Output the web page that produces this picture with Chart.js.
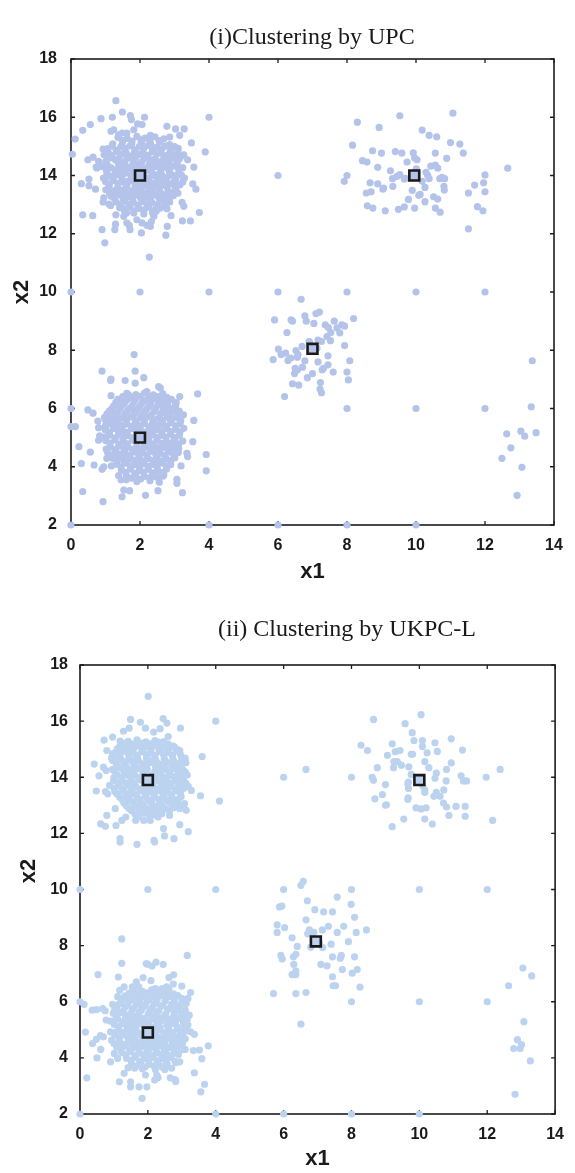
<!DOCTYPE html>
<html><head><meta charset="utf-8">
<script src="https://cdn.jsdelivr.net/npm/chart.js@4.4.1/dist/chart.umd.min.js"></script>
<style>
html,body{margin:0;padding:0;background:#fff;}
#wrap{position:relative;width:575px;height:1173px;overflow:hidden;}
canvas{position:absolute;left:0;}
</style></head>
<body><div id="wrap">
<canvas id="c1" width="575" height="585" style="top:0px"></canvas>
<canvas id="c2" width="575" height="588" style="top:585px"></canvas>
</div>
<script>
// ---------- data ----------
const titles = ["(i)Clustering by UPC", "(ii) Clustering by UKPC-L"];
const xTickLabels = [0,2,4,6,8,10,12,14];
const yTickLabels = [2,4,6,8,10,12,14,16,18];

// chart (i)
const c1Centers = [[2,14],[9.95,14],[2,5],[7,8.05]];
const c1Grid = [[0,2],[4,2],[6,2],[8,2],[10,2],[0,6],[8,6],[10,6],[12,6],[0,10],[2,10],[4,10],[6,10],[8,10],[10,10],[12,10],[6,14],[8,14],[4,16],[0.04,14.73]];
const c1A = [[1.30,16.57],[1.49,16.18],[1.72,16.06],[1.75,15.92],[2.13,16.0],[1.93,15.77],[2.06,15.75],[0.87,15.95],[1.20,16.0],[0.56,15.75],[0.34,15.55],[0.12,15.25],[0.49,14.54],[0.64,14.63],[0.73,14.29],[0.52,13.88],[0.30,13.72],[0.52,13.65],[0.71,13.53],[0.34,12.65],[0.63,12.62],[0.90,12.14],[0.98,11.69],[1.27,12.14],[1.29,12.33],[1.30,12.65],[1.71,12.14],[2.04,12.03],[2.27,11.20],[2.30,12.25],[2.75,11.95],[2.79,12.25],[2.90,12.62],[3.23,12.44],[3.46,12.44],[3.72,12.73],[3.27,12.94],[3.22,13.08],[3.62,13.53],[3.53,13.71],[3.56,14.29],[3.38,14.54],[3.27,14.71],[3.49,15.12],[3.89,14.81],[3.28,15.60],[3.03,15.60],[2.78,15.69],[3.15,15.38],[2.86,15.32],[2.30,15.38],[2.78,12.86],[2.59,12.88],[2.73,13.23],[0.95,13.23],[0.93,13.09],[1.10,13.02],[1.15,12.97],[1.27,13.28],[1.50,12.88],[1.53,12.60],[1.62,12.37],[1.69,12.29],[1.91,12.48],[2.06,12.37],[2.20,12.29],[2.33,12.42],[2.40,12.60],[2.47,12.77],[1.57,12.71],[1.82,12.71],[0.93,14.91],[1.16,15.52],[1.24,15.57],[1.38,15.40],[1.48,15.46],[1.62,15.46],[1.82,15.57],[0.75,14.26],[0.80,14.49],
[1.36,15.31],[1.63,15.27],[1.91,15.34],[2.14,15.28],[2.43,15.33],[2.69,15.26],[1.21,15.09],[1.49,15.13],[1.76,15.07],[2.04,15.12],[2.31,15.08],[2.57,15.14],[2.86,15.06],[1.06,14.92],[1.31,14.87],[1.57,14.93],[1.86,14.88],[2.11,14.94],[2.36,14.86],[2.63,14.91],[2.89,14.89],[3.11,14.93],[0.96,14.71],[1.19,14.68],[1.46,14.73],[1.71,14.67],[1.97,14.72],[2.23,14.69],[2.49,14.74],[2.76,14.68],[3.01,14.71],[3.19,14.66],[1.01,14.49],[1.29,14.53],[1.56,14.47],[1.81,14.52],[2.06,14.48],[2.31,14.54],[2.58,14.47],[2.84,14.51],[3.07,14.49],[0.91,14.31],[1.16,14.27],[1.41,14.32],[1.66,14.28],[1.93,14.33],[2.17,14.26],[2.44,14.31],[2.71,14.28],[2.96,14.32],[3.24,14.27],[1.04,14.09],[1.31,14.12],[1.56,14.07],[1.83,14.11],[2.09,14.08],[2.34,14.13],[2.61,14.07],[2.87,14.11],[3.13,14.08],[0.94,13.91],[1.21,13.88],[1.47,13.92],[1.73,13.87],[2.24,13.91],[2.51,13.88],[2.77,13.93],[3.03,13.87],[3.29,13.91],[1.11,13.69],[1.36,13.72],[1.61,13.67],[1.89,13.71],[2.13,13.68],[2.39,13.73],[2.66,13.67],[2.91,13.71],[3.16,13.68],[1.01,13.51],[1.26,13.48],[1.53,13.52],[1.77,13.47],[2.04,13.51],[2.29,13.49],[2.56,13.53],[2.81,13.47],[3.04,13.52],[1.16,13.29],[1.43,13.32],[1.67,13.28],[1.96,13.31],[2.21,13.27],[2.46,13.33],[2.73,13.28],[2.97,13.31],[1.31,13.09],[1.56,13.12],[1.81,13.07],[2.09,13.11],[2.34,13.08],[2.61,13.12],[2.86,13.09],[1.41,12.89],[1.71,12.92],[1.97,12.87],[2.26,12.91],[2.49,12.88],[1.61,12.71],[2.11,12.68],[2.36,12.72],
[1.62,14.58],[1.88,14.41],[2.13,14.59],[2.38,14.42],[1.49,14.19],[1.74,14.01],[2.21,14.18],[2.47,14.02],[1.61,13.79],[1.86,13.61],[2.12,13.81],[2.37,13.61],[2.62,13.79],[1.37,14.41],[2.71,14.4],[1.25,14.0],[2.98,14.0],[1.52,13.4],[2.02,13.22],[2.55,13.22]];
const c1Afill = [[1.5,15.21],[1.77,15.18],[2.03,15.22],[2.29,15.19],[2.55,15.2],
[1.19,15.01],[1.44,14.98],[1.71,15.02],[1.98,14.99],[2.23,15.03],[2.48,14.97],[2.74,15.01],[3.0,14.99],
[1.08,14.79],[1.33,14.82],[1.6,14.78],[1.84,14.81],[2.09,14.79],[2.36,14.82],[2.61,14.78],[2.87,14.8],[3.1,14.81],
[1.14,14.61],[1.39,14.59],[1.87,14.62],[2.44,14.58],[2.69,14.61],[2.94,14.6],[3.15,14.58],
[1.04,14.39],[1.54,14.41],[1.79,14.38],[2.02,14.42],[2.27,14.39],[2.56,14.41],[2.82,14.38],[3.08,14.4],
[1.02,14.21],[1.28,14.19],[1.62,14.22],[1.8,14.18],[2.06,14.21],[2.33,14.19],[2.59,14.22],[2.84,14.18],[3.12,14.2],
[1.12,13.99],[1.4,14.02],[1.93,13.98],[2.1,14.01],[2.35,13.99],[2.62,14.02],[2.83,13.98],[3.2,14.01],
[1.0,13.79],[1.24,13.82],[1.48,13.78],[1.74,13.81],[1.98,13.79],[2.25,13.82],[2.5,13.78],[2.77,13.8],[3.0,13.81],[3.24,13.78],
[1.1,13.61],[1.35,13.58],[1.62,13.62],[2.0,13.59],[2.24,13.61],[2.52,13.58],[2.78,13.62],[3.02,13.6],
[1.12,13.39],[1.34,13.42],[1.64,13.38],[1.85,13.41],[2.14,13.39],[2.36,13.42],[2.62,13.38],[2.88,13.41],[3.1,13.39],
[1.26,13.21],[1.52,13.18],[1.78,13.22],[2.3,13.19],[2.6,13.21],[2.85,13.18],
[1.42,12.99],[1.68,13.02],[1.94,12.98],[2.2,13.01],[2.48,12.99],[2.74,13.02],
[1.55,12.81],[1.82,12.79],[2.12,12.82],[2.38,12.79]];
const c1B = [[1.83,7.85],[0.90,7.28],[1.86,7.28],[1.16,7.01],[1.15,6.96],[1.57,6.96],[2.11,7.06],[1.86,6.87],[2.20,6.58],[2.54,6.75],[2.59,6.70],[1.16,6.44],[3.67,6.50],[3.15,6.41],[0.49,5.95],[0.64,5.84],[0.0,5.38],[0.13,5.38],[0.78,5.57],[3.03,6.09],[3.00,5.95],[3.26,5.78],[3.56,5.59],[0.23,4.69],[0.56,4.50],[0.30,4.11],[0.67,4.06],[0.90,3.91],[0.34,3.15],[0.93,2.80],[1.53,3.20],[1.48,2.97],[1.70,3.18],[2.16,3.02],[2.52,3.18],[3.23,3.11],[3.07,3.43],[3.07,3.57],[3.19,4.03],[3.38,4.35],[3.36,4.46],[3.92,4.42],[3.92,3.86],[3.53,4.86],[3.12,4.63],[0.80,4.91],[0.83,5.06],[0.93,5.01],[1.04,4.29],[0.95,4.00],[1.17,4.03],[1.38,3.70],[1.45,3.55],[1.60,3.55],[2.69,3.72],[2.45,3.66],[2.78,4.69],[2.88,4.52],[0.80,5.34],[1.0,5.26],[1.19,5.95],[1.43,6.20],[1.53,6.35],[1.67,6.47],[2.30,6.20],[2.40,6.35],[2.54,6.35],[2.69,6.07],[2.78,5.84],[2.88,5.61],[1.0,5.61],[1.04,5.72],[1.29,4.58],[1.38,4.41],[1.53,4.18],
[1.62,6.52],[1.88,6.48],[2.13,6.53],[2.39,6.47],[2.66,6.51],[1.36,6.31],[1.61,6.28],[1.87,6.33],[2.12,6.27],[2.38,6.32],[2.64,6.29],[2.91,6.31],[1.24,6.09],[1.49,6.12],[1.76,6.07],[2.01,6.11],[2.27,6.08],[2.52,6.13],[2.79,6.07],[3.02,6.11],[1.11,5.91],[1.36,5.88],[1.63,5.92],[1.89,5.87],[2.14,5.91],[2.41,5.89],[2.67,5.93],[2.92,5.88],[3.14,5.91],[0.97,5.69],[1.23,5.72],[1.48,5.67],[1.74,5.71],[2.02,5.68],[2.27,5.73],[2.54,5.67],[2.79,5.71],[3.06,5.69],[1.09,5.49],[1.34,5.52],[1.61,5.47],[1.86,5.51],[2.12,5.48],[2.37,5.53],[2.63,5.47],[2.89,5.51],[3.16,5.48],[0.99,5.29],[1.24,5.32],[1.49,5.27],[1.76,5.31],[2.01,5.28],[2.27,5.33],[2.52,5.27],[2.78,5.31],[3.04,5.28],[3.27,5.32],[1.12,5.09],[1.38,5.12],[1.63,5.07],[2.37,5.11],[2.63,5.08],[2.88,5.12],[3.14,5.07],[1.01,4.89],[1.27,4.92],[1.52,4.87],[1.78,4.91],[2.23,4.88],[2.49,4.93],[2.76,4.87],[3.01,4.91],[3.24,4.88],[1.14,4.69],[1.39,4.72],[1.66,4.67],[1.91,4.71],[2.17,4.68],[2.42,4.73],[2.68,4.67],[2.94,4.71],[1.06,4.49],[1.31,4.52],[1.57,4.47],[1.82,4.51],[2.08,4.48],[2.33,4.53],[2.59,4.47],[2.86,4.51],[3.11,4.49],[1.21,4.29],[1.46,4.32],[1.73,4.27],[1.98,4.31],[2.24,4.28],[2.49,4.33],[2.76,4.27],[3.01,4.31],[1.33,4.09],[1.59,4.12],[1.86,4.07],[2.11,4.11],[2.37,4.08],[2.62,4.13],[2.89,4.07],[1.46,3.89],[1.72,3.92],[1.99,3.87],[2.24,3.91],[2.51,3.88],[2.77,3.92],[1.61,3.69],[1.87,3.72],[2.13,3.67],[2.41,3.71],[2.67,3.68],[1.91,3.49],[2.29,3.52],[2.56,3.47],
[1.62,5.61],[1.88,5.42],[2.14,5.61],[2.4,5.42],[1.51,5.19],[1.77,5.0],[2.22,5.2],[2.5,5.0],[1.63,4.79],[1.9,4.6],[2.12,4.8],[2.38,4.6],[2.63,4.8],[1.37,5.41],[2.71,5.4],[1.28,4.99],[2.99,5.0],[1.53,4.4],[2.0,4.2],[2.55,4.2],[1.8,6.0],[2.3,6.2]];
const c1Bfill = [[1.5,6.41],[1.76,6.38],[2.0,6.42],[2.26,6.39],[2.52,6.41],[2.78,6.38],
[1.3,6.21],[1.55,6.18],[1.82,6.22],[2.06,6.19],[2.55,6.21],[2.8,6.18],[3.05,6.2],
[1.18,5.99],[1.43,6.02],[1.68,5.98],[1.95,6.01],[2.2,5.99],[2.46,6.02],[2.72,5.98],[2.96,6.0],
[1.04,5.81],[1.3,5.78],[1.56,5.82],[1.82,5.79],[2.08,5.81],[2.33,5.78],[2.6,5.82],[2.86,5.79],[3.1,5.8],
[1.2,5.59],[1.36,5.62],[1.88,5.58],[2.4,5.61],[2.66,5.59],[2.92,5.62],[3.18,5.58],
[1.0,5.41],[1.22,5.38],[1.49,5.42],[1.74,5.39],[2.0,5.41],[2.26,5.38],[2.52,5.42],[2.77,5.39],[3.03,5.41],
[1.12,5.19],[1.37,5.22],[1.63,5.18],[1.9,5.21],[2.1,5.19],[2.38,5.22],[2.64,5.18],[2.9,5.21],[3.16,5.19],
[1.02,5.01],[1.5,4.98],[2.04,5.02],[2.26,4.99],[2.75,5.01],[3.0,4.98],
[1.13,4.81],[1.39,4.78],[1.9,4.82],[2.36,4.79],[2.88,4.81],[3.12,4.78],
[1.02,4.61],[1.27,4.58],[1.53,4.62],[1.78,4.59],[2.04,4.61],[2.29,4.58],[2.55,4.62],[2.81,4.59],[3.06,4.61],
[1.18,4.39],[1.44,4.42],[1.7,4.38],[1.96,4.41],[2.2,4.39],[2.46,4.42],[2.72,4.38],[2.98,4.41],
[1.33,4.21],[1.59,4.18],[1.85,4.22],[2.12,4.19],[2.38,4.21],[2.64,4.18],[2.9,4.22],
[1.45,3.99],[1.72,4.02],[1.98,3.98],[2.24,4.01],[2.5,3.99],[2.76,4.02],
[1.58,3.81],[1.85,3.78],[2.1,3.82],[2.36,3.79],[2.62,3.81],
[1.75,3.61],[2.02,3.58],[2.28,3.62],[2.54,3.59]];
const c1C = [[8.30,15.83],[8.93,15.65],[9.53,16.05],[11.07,16.14],[10.18,15.56],[10.38,15.38],[10.60,15.33],[8.16,15.04],[8.74,14.85],[9.0,14.77],[9.40,14.82],[9.59,14.77],[9.92,14.78],[10.56,14.77],[11.0,15.13],[11.27,15.08],[11.37,14.77],[10.89,14.59],[8.45,14.51],[8.58,14.46],[9.74,14.46],[9.96,14.61],[10.03,14.54],[8.89,14.28],[9.26,14.16],[7.92,13.80],[8.67,13.75],[8.89,13.71],[9.06,13.57],[9.04,13.53],[9.33,13.63],[9.32,13.89],[9.45,13.97],[9.53,14.03],[9.69,13.90],[10.01,14.23],[10.29,14.11],[10.34,14.00],[10.43,14.32],[10.56,14.36],[10.63,14.25],[10.38,13.89],[10.18,13.80],[10.26,13.59],[9.89,13.49],[10.69,13.89],[10.76,13.94],[10.83,13.89],[10.81,13.63],[10.82,13.50],[12.0,14.02],[11.96,13.75],[11.70,13.67],[12.0,13.44],[11.52,13.40],[12.66,14.25],[8.56,13.40],[8.70,13.44],[10.12,13.35],[10.08,13.32],[9.78,13.18],[10.51,13.27],[10.63,13.19],[10.26,13.10],[8.59,12.96],[8.75,12.88],[9.11,12.79],[9.49,12.84],[9.66,12.92],[9.96,12.88],[10.56,12.88],[10.70,12.74],[11.78,12.93],[11.94,12.79],[11.52,12.17],[9.66,13.88]];
const c1D = [[6.67,9.75],[5.90,9.04],[6.38,9.04],[6.42,9.0],[6.78,9.18],[6.82,9.0],[7.10,9.26],[7.20,9.31],[7.04,8.92],[7.37,8.87],[7.46,8.78],[7.63,9.0],[7.71,8.77],[7.85,8.87],[7.93,8.83],[8.19,9.09],[7.79,8.60],[7.53,8.61],[7.42,8.47],[7.52,8.33],[7.26,8.30],[7.16,8.35],[6.90,8.30],[6.26,8.61],[6.70,8.13],[6.01,8.04],[6.09,7.85],[6.22,7.90],[6.52,7.99],[6.58,7.85],[6.56,7.76],[6.37,7.73],[6.29,7.65],[5.86,7.68],[6.78,7.64],[7.16,7.60],[7.45,7.81],[7.93,8.16],[8.08,7.64],[7.45,7.50],[7.32,7.38],[7.28,7.33],[7.60,7.25],[8.0,7.25],[8.04,6.98],[6.71,7.42],[6.50,7.38],[6.56,7.32],[6.48,7.20],[7.0,7.20],[6.85,7.06],[7.23,6.89],[7.22,6.67],[7.26,6.54],[6.42,6.85],[6.60,6.80],[6.19,6.41],[6.91,8.29],[7.13,8.07]];
const c1E = [[13.37,7.64],[13.34,6.06],[12.63,5.13],[13.04,5.22],[13.15,5.05],[13.48,5.17],[12.75,4.65],[12.49,4.29],[13.07,3.98],[12.93,3.02]];

// chart (ii)
const c2Centers = [[2,13.9],[10,13.9],[2,4.9],[6.95,8.15]];
const c2Grid = [[0,2],[4,2],[6,2],[8,2],[10,2],[0,6],[8,6],[10,6],[12,6],[0,10],[2,10],[4,10],[6,10],[8,10],[10,10],[12,10],[6,14],[8,14],[4,16],[4.11,13.15]];
const c2A = [[2.01,16.88],[1.49,16.06],[1.78,15.96],[2.45,16.09],[2.56,15.93],[1.93,15.75],[2.96,15.75],[0.71,15.32],[0.96,15.43],[1.18,15.29],[1.28,15.64],[1.45,15.75],[2.17,15.61],[2.36,15.73],[2.60,15.45],[0.79,14.95],[0.96,14.83],[0.42,14.47],[0.56,14.05],[0.69,14.36],[0.77,14.24],[0.48,13.51],[0.75,13.49],[0.82,13.41],[0.87,13.71],[1.01,13.89],[3.10,14.68],[3.60,14.74],[3.08,14.12],[3.28,13.53],[3.55,13.34],[2.97,13.55],[3.08,13.06],[3.13,12.82],[2.94,12.88],[2.80,13.17],[0.79,12.64],[1.04,12.88],[1.06,12.28],[0.61,12.34],[0.75,12.25],[1.23,12.46],[1.35,12.58],[1.64,12.46],[1.88,12.46],[2.07,12.46],[2.22,12.82],[2.41,12.70],[2.46,12.17],[2.49,11.91],[2.77,11.81],[2.94,12.31],[3.19,12.06],[2.64,12.64],[0.96,14.60],[1.16,14.83],[1.35,15.07],[1.64,15.19],[2.31,15.25],[2.79,15.07],[2.94,14.95],[2.94,14.48],[2.89,14.36],[1.16,13.77],[1.11,13.41],[1.35,13.17],[1.18,11.81],[2.18,11.75],[1.18,11.69],[1.68,11.61],[2.20,11.69],
[1.42,15.28],[1.68,15.33],[1.94,15.26],[2.21,15.31],[2.47,15.27],[1.18,15.11],[1.44,15.06],[1.71,15.12],[1.97,15.08],[2.23,15.13],[2.49,15.07],[2.74,15.11],[1.04,14.88],[1.29,14.93],[1.56,14.86],[1.82,14.91],[2.07,14.87],[2.33,14.92],[2.59,14.88],[2.84,14.93],[0.93,14.69],[1.18,14.72],[1.44,14.67],[1.69,14.73],[1.96,14.68],[2.21,14.71],[2.48,14.66],[2.73,14.72],[2.99,14.69],[1.06,14.51],[1.31,14.47],[1.57,14.52],[1.83,14.48],[2.09,14.53],[2.34,14.47],[2.61,14.51],[2.87,14.48],[3.12,14.52],[0.96,14.28],[1.21,14.32],[1.47,14.27],[1.72,14.31],[1.98,14.28],[2.24,14.33],[2.51,14.27],[2.76,14.31],[3.02,14.28],[1.09,14.09],[1.34,14.12],[1.61,14.07],[1.86,14.11],[2.12,14.08],[2.38,14.13],[2.63,14.07],[2.89,14.11],[3.16,14.08],[0.99,13.89],[1.24,13.92],[1.51,13.87],[1.76,13.91],[2.27,13.88],[2.53,13.93],[2.79,13.87],[3.04,13.91],[1.13,13.69],[1.39,13.72],[1.64,13.67],[1.91,13.71],[2.16,13.68],[2.42,13.73],[2.68,13.67],[2.94,13.71],[3.19,13.68],[1.03,13.49],[1.28,13.52],[1.54,13.47],[1.81,13.51],[2.06,13.48],[2.32,13.53],[2.58,13.47],[2.84,13.51],[1.17,13.29],[1.43,13.32],[1.69,13.27],[1.94,13.31],[2.21,13.28],[2.46,13.33],[2.72,13.27],[2.98,13.31],[1.29,13.09],[1.56,13.12],[1.82,13.07],[2.08,13.11],[2.34,13.08],[2.61,13.12],[2.87,13.09],[1.44,12.89],[1.71,12.92],[1.97,12.87],[2.23,12.91],[2.51,12.88],[2.77,12.92],[1.62,12.69],[1.92,12.72],[2.19,12.67],[2.41,12.71],
[1.58,14.59],[1.84,14.4],[2.11,14.58],[2.37,14.41],[1.48,14.2],[1.73,13.99],[2.2,14.2],[2.46,14.0],[1.6,13.8],[1.87,13.6],[2.1,13.8],[2.36,13.6],[2.61,13.8],[1.36,14.4],[2.7,14.4],[1.24,14.0],[2.97,14.0],[1.5,13.4],[2.0,13.2],[2.54,13.2]];
const c2Afill = [[1.3,15.21],[1.55,15.18],[1.81,15.22],[2.08,15.19],[2.34,15.21],[2.6,15.18],
[1.1,15.01],[1.31,14.98],[1.58,15.02],[1.84,14.99],[2.1,15.01],[2.36,14.98],[2.62,15.02],[2.86,14.99],
[0.98,14.81],[1.17,14.78],[1.43,14.82],[1.69,14.79],[1.95,14.81],[2.2,14.78],[2.46,14.82],[2.72,14.79],[2.96,14.81],
[1.0,14.61],[1.25,14.58],[1.46,14.62],[1.72,14.59],[1.98,14.61],[2.24,14.58],[2.5,14.62],[2.76,14.59],[3.02,14.61],
[1.1,14.39],[1.6,14.42],[1.96,14.38],[2.22,14.41],[2.48,14.39],[2.98,14.42],
[1.02,14.21],[1.3,14.18],[1.6,14.22],[1.86,14.19],[2.36,14.21],[2.64,14.18],[2.9,14.22],[3.1,14.19],
[1.0,13.99],[1.46,14.02],[1.98,13.98],[2.24,14.01],[2.5,13.99],[2.76,14.02],[3.05,13.98],
[1.12,13.81],[1.37,13.78],[1.88,13.82],[2.38,13.79],[2.88,13.81],[3.12,13.78],
[1.0,13.61],[1.25,13.58],[1.5,13.62],[1.76,13.59],[2.02,13.61],[2.26,13.58],[2.54,13.62],[2.8,13.59],[3.06,13.61],
[1.1,13.39],[1.36,13.42],[1.66,13.38],[1.92,13.41],[2.18,13.39],[2.44,13.42],[2.7,13.38],[2.96,13.41],
[1.24,13.21],[1.48,13.18],[1.76,13.22],[2.12,13.19],[2.34,13.21],[2.62,13.18],[2.9,13.22],
[1.36,12.99],[1.62,13.02],[1.88,12.98],[2.14,13.01],[2.42,12.99],[2.7,13.02],[2.98,12.98],
[1.52,12.81],[1.8,12.78],[2.08,12.82],[2.36,12.79],[2.64,12.81],
[1.74,12.59],[2.06,12.62],[2.3,12.58]];
const c2B = [[1.23,8.24],[1.23,7.37],[0.53,6.97],[1.95,7.36],[1.99,7.34],[2.12,7.27],[2.24,7.41],[2.45,7.33],[3.16,7.65],[1.13,6.88],[1.86,6.86],[2.09,6.75],[1.66,6.71],[2.62,6.86],[2.76,6.96],[3.0,6.56],[3.26,6.33],[3.18,6.12],[3.13,5.94],[3.22,5.52],[3.03,5.58],[3.37,4.84],[3.78,4.43],[3.52,4.28],[3.34,4.26],[3.59,3.97],[3.37,3.47],[3.67,3.06],[3.56,2.79],[2.82,3.83],[2.94,3.86],[2.80,3.23],[2.82,3.16],[2.66,3.29],[2.50,3.59],[2.70,3.63],[2.26,3.39],[2.20,3.21],[2.30,3.30],[1.97,2.97],[1.74,2.97],[1.49,2.97],[1.49,3.15],[1.83,2.56],[1.16,3.15],[1.30,3.45],[1.42,3.65],[1.61,3.63],[1.93,3.39],[0.20,3.29],[0.50,4.00],[0.61,4.30],[0.37,4.51],[0.48,4.66],[0.60,4.79],[0.69,4.75],[0.16,4.92],[0.12,5.91],[0.36,5.70],[0.49,5.72],[0.67,5.76],[0.74,5.68],[0.89,5.31],[0.77,5.35],[0.96,5.91],[1.11,6.18],[1.17,6.41],[1.30,6.53],[0.90,3.86],[1.01,4.16],[1.11,3.98],[0.93,4.63],[0.90,4.93],[3.26,4.93],[3.18,5.17],[3.05,5.29],[3.06,4.97],[3.10,4.30],[2.94,4.54],[3.02,4.66],[2.41,3.68],[2.75,6.63],[2.55,6.53],[2.41,6.47],[2.22,6.47],[2.79,6.24],[2.79,5.88],[2.89,5.70],[1.45,6.29],[1.35,6.12],[1.20,5.94],[1.54,6.53],[1.73,6.53],
[1.58,6.41],[1.84,6.37],[2.11,6.42],[2.36,6.38],[2.62,6.43],[1.33,6.21],[1.59,6.17],[1.86,6.22],[2.12,6.18],[2.37,6.23],[2.63,6.19],[2.88,6.22],[1.21,5.99],[1.46,6.03],[1.73,5.98],[1.98,6.02],[2.24,5.97],[2.51,6.03],[2.77,5.98],[3.01,6.01],[1.08,5.79],[1.34,5.82],[1.59,5.77],[1.86,5.81],[2.12,5.78],[2.38,5.83],[2.64,5.77],[2.91,5.81],[0.98,5.59],[1.22,5.62],[1.48,5.57],[1.74,5.61],[2.01,5.58],[2.26,5.63],[2.53,5.57],[2.78,5.61],[3.04,5.58],[1.11,5.39],[1.37,5.42],[1.62,5.37],[1.89,5.41],[2.14,5.38],[2.41,5.43],[2.66,5.37],[2.92,5.41],[3.16,5.38],[1.01,5.19],[1.26,5.22],[1.52,5.17],[1.78,5.21],[2.03,5.18],[2.29,5.23],[2.56,5.17],[2.81,5.21],[3.07,5.18],[1.14,4.99],[1.39,5.02],[1.66,4.97],[2.33,5.01],[2.59,4.98],[2.86,5.02],[3.12,4.97],[1.03,4.79],[1.29,4.82],[1.54,4.77],[1.79,4.81],[2.26,4.78],[2.52,4.83],[2.78,4.77],[3.03,4.81],[1.16,4.59],[1.42,4.62],[1.68,4.57],[1.94,4.61],[2.19,4.58],[2.46,4.63],[2.72,4.57],[2.97,4.61],[1.08,4.39],[1.33,4.42],[1.59,4.37],[1.86,4.41],[2.11,4.38],[2.37,4.43],[2.63,4.37],[2.89,4.41],[1.23,4.19],[1.49,4.22],[1.76,4.17],[2.01,4.21],[2.27,4.18],[2.53,4.23],[2.79,4.17],[1.37,3.99],[1.63,4.02],[1.89,3.97],[2.16,4.01],[2.42,3.98],[2.68,4.02],[1.52,3.79],[1.79,3.82],[2.04,3.77],[2.31,3.81],[2.57,3.78],[1.84,3.61],[2.22,3.59],
[1.58,5.49],[1.85,5.3],[2.11,5.5],[2.37,5.31],[1.48,5.1],[1.72,4.9],[2.2,5.1],[2.46,4.9],[1.6,4.7],[1.87,4.5],[2.1,4.7],[2.36,4.5],[2.61,4.7],[1.35,5.3],[2.7,5.3],[1.25,4.9],[2.96,4.9],[1.5,4.3],[2.0,4.1],[2.54,4.1],[1.78,5.9],[2.28,6.1]];
const c2Bfill = [[1.45,6.31],[1.72,6.28],[1.98,6.32],[2.24,6.29],[2.5,6.31],[2.76,6.28],
[1.26,6.11],[1.52,6.08],[1.78,6.12],[2.04,6.09],[2.52,6.11],[2.78,6.08],[3.0,6.12],
[1.14,5.91],[1.4,5.88],[1.66,5.92],[1.92,5.89],[2.18,5.91],[2.44,5.88],[2.7,5.92],[2.96,5.89],
[1.02,5.71],[1.28,5.68],[1.54,5.72],[1.8,5.69],[2.06,5.71],[2.32,5.68],[2.58,5.72],[2.84,5.69],[3.1,5.71],
[1.06,5.51],[1.34,5.48],[1.72,5.52],[2.24,5.49],[2.5,5.51],[2.76,5.48],[3.0,5.52],
[1.0,5.31],[1.24,5.28],[1.5,5.32],[1.76,5.29],[2.02,5.31],[2.26,5.28],[2.54,5.32],[2.8,5.29],[3.05,5.31],
[1.14,5.11],[1.39,5.08],[1.64,5.12],[1.9,5.09],[2.08,5.11],[2.36,5.08],[2.62,5.12],[2.88,5.09],[3.12,5.11],
[1.04,4.91],[1.48,4.88],[2.06,4.92],[2.22,4.89],[2.72,4.91],[3.02,4.88],
[1.16,4.71],[1.42,4.68],[1.86,4.72],[2.36,4.69],[2.86,4.71],[3.1,4.68],
[1.0,4.51],[1.26,4.48],[1.52,4.52],[1.74,4.49],[2.0,4.51],[2.24,4.48],[2.5,4.52],[2.76,4.49],[3.02,4.51],
[1.2,4.31],[1.46,4.28],[1.72,4.32],[1.98,4.29],[2.24,4.31],[2.48,4.28],[2.76,4.32],[2.98,4.29],
[1.35,4.11],[1.62,4.08],[1.88,4.12],[2.14,4.09],[2.4,4.11],[2.66,4.08],[2.9,4.12],
[1.5,3.91],[1.76,3.88],[2.02,3.92],[2.28,3.89],[2.54,3.91],[2.8,3.88],
[1.66,3.71],[1.92,3.68],[2.18,3.72],[2.44,3.69]];
const c2C = [[6.66,14.28],[8.65,16.06],[10.05,16.23],[9.58,15.91],[9.79,15.59],[8.28,15.14],[8.47,14.95],[9.20,15.19],[9.29,14.91],[9.43,14.95],[9.06,14.78],[9.76,14.82],[9.80,14.82],[9.84,15.31],[10.09,15.31],[10.09,15.10],[10.46,15.23],[10.94,15.37],[10.23,14.87],[10.53,14.92],[11.27,14.97],[9.25,14.56],[9.35,14.56],[9.47,14.43],[9.69,14.37],[8.76,14.34],[9.24,14.34],[10.16,14.56],[10.28,14.34],[10.94,14.51],[10.80,14.28],[10.50,14.15],[8.61,14.0],[8.65,13.89],[9.76,14.10],[9.68,13.83],[9.66,13.77],[9.68,13.60],[10.46,13.96],[10.79,13.87],[11.23,14.05],[11.30,13.87],[11.39,13.87],[11.97,14.0],[12.38,14.28],[9.0,13.74],[8.91,13.38],[8.69,13.23],[9.0,13.0],[9.03,13.02],[9.67,13.27],[9.66,13.21],[10.16,13.55],[10.16,13.46],[10.43,13.32],[10.50,13.46],[10.61,13.32],[10.72,13.55],[10.71,13.08],[10.80,12.94],[11.08,12.96],[11.35,12.96],[9.90,12.91],[10.05,12.87],[10.20,12.91],[10.87,12.64],[11.35,12.61],[10.16,12.51],[10.38,12.33],[9.54,12.51],[9.20,12.24],[12.16,12.46],[10.1,13.7],[9.9,14.0]];
const c2D = [[6.58,10.29],[6.51,10.15],[6.70,9.60],[7.58,9.73],[7.99,9.47],[5.88,9.38],[5.95,9.41],[6.92,9.28],[7.18,9.20],[7.44,9.20],[8.09,9.01],[6.66,8.92],[5.81,8.74],[5.81,8.47],[6.03,8.64],[7.32,8.69],[7.77,8.69],[8.44,8.56],[8.14,8.47],[7.58,8.47],[7.14,8.56],[6.76,8.56],[6.71,8.42],[6.89,8.47],[6.25,8.28],[6.40,7.97],[6.80,7.94],[7.15,7.93],[7.40,8.05],[7.91,8.14],[5.92,7.65],[5.96,7.52],[6.29,7.60],[6.36,7.69],[7.44,7.60],[7.67,7.55],[7.70,7.65],[8.09,7.60],[6.30,7.33],[7.10,7.33],[7.28,7.28],[6.25,6.97],[6.36,6.97],[6.36,7.10],[7.44,6.89],[7.73,7.15],[8.02,7.02],[8.17,7.15],[7.46,6.57],[7.53,6.57],[8.25,6.52],[5.70,6.29],[6.36,6.29],[6.66,6.33],[6.51,5.20],[7.05,8.1]];
const c2E = [[13.05,7.20],[13.31,6.92],[12.63,6.57],[13.08,5.29],[12.89,4.65],[13.01,4.47],[12.78,4.33],[12.97,4.33],[13.27,3.89],[12.82,2.70]];

// ---------- drawing ----------
const toXY = arr => arr.map(p => ({x: p[0], y: p[1]}));

const framePlugin = {
  id: 'frame',
  beforeDatasetsDraw(chart) {
    const {ctx, chartArea: a, scales} = chart;
    ctx.save();
    ctx.strokeStyle = '#1c1c1c';
    ctx.lineWidth = 1.6;
    ctx.strokeRect(a.left, a.top, a.right - a.left, a.bottom - a.top);
    ctx.lineWidth = 1.3;
    const L = 4;
    ctx.beginPath();
    scales.x.ticks.forEach(t => {
      const px = scales.x.getPixelForValue(t.value);
      ctx.moveTo(px, a.bottom); ctx.lineTo(px, a.bottom - L);
      ctx.moveTo(px, a.top); ctx.lineTo(px, a.top + L);
    });
    scales.y.ticks.forEach(t => {
      const py = scales.y.getPixelForValue(t.value);
      ctx.moveTo(a.left, py); ctx.lineTo(a.left + L, py);
      ctx.moveTo(a.right, py); ctx.lineTo(a.right - L, py);
    });
    ctx.stroke();
    ctx.restore();
  },
  afterDraw(chart, args, opts) {
    const {ctx} = chart;
    ctx.save();
    ctx.font = '24px "Liberation Serif", "Times New Roman", serif';
    ctx.fillStyle = '#1a1a1a';
    ctx.textAlign = 'center';
    ctx.textBaseline = 'middle';
    ctx.fillText(opts.text, opts.x, opts.y);
    ctx.font = 'bold 22px "Liberation Sans", Arial, sans-serif';
    ctx.translate(opts.yTitleX, opts.yTitleY);
    ctx.rotate(-Math.PI / 2);
    ctx.fillText('x2', 0, 0);
    ctx.restore();
  }
};

function makeChart(id, cfg) {
  const tickFont = {family: '"Liberation Sans", Arial, sans-serif', size: 16, weight: 'bold'};
  const titleFont = {family: '"Liberation Sans", Arial, sans-serif', size: 22, weight: 'bold'};
  return new Chart(document.getElementById(id), {
    type: 'scatter',
    data: {
      datasets: [
        {data: toXY(cfg.centers), pointStyle: 'rect', pointRadius: 7, pointHoverRadius: 7,
         pointBorderWidth: 2.6, pointBorderColor: '#1a1a1a', pointBackgroundColor: cfg.color, clip: false},
        {data: toXY(cfg.points), pointRadius: 3.6, pointHoverRadius: 3.6, pointBorderWidth: 0,
         pointBackgroundColor: cfg.color, pointBorderColor: cfg.color, clip: false}
      ]
    },
    options: {
      responsive: false, animation: false, devicePixelRatio: 1,
      layout: {padding: cfg.pad},
      plugins: {legend: {display: false}, tooltip: {enabled: false},
        frame: {text: cfg.title, x: cfg.titleX, y: cfg.titleY, yTitleX: cfg.yTitleX, yTitleY: cfg.yTitleY}},
      scales: {
        x: {type: 'linear', min: 0, max: 14,
            afterBuildTicks: s => { s.ticks = xTickLabels.map(v => ({value: v})); },
            afterFit: s => { s.height = cfg.xH; },
            grid: {display: false, drawTicks: false}, border: {display: false},
            ticks: {font: tickFont, color: '#1a1a1a', padding: cfg.xPad, maxRotation: 0, autoSkip: false},
            title: {display: true, text: 'x1', font: titleFont, color: '#1a1a1a', padding: {top: 0, bottom: cfg.x1Pad}}},
        y: {type: 'linear', min: 2, max: 18,
            afterBuildTicks: s => { s.ticks = yTickLabels.map(v => ({value: v})); },
            afterFit: s => { s.width = cfg.yW; },
            grid: {display: false, drawTicks: false}, border: {display: false},
            ticks: {font: tickFont, color: '#1a1a1a', padding: cfg.yPad, autoSkip: false},
            title: {display: false}}
      }
    },
    plugins: [framePlugin]
  });
}

makeChart('c1', {
  title: titles[0], titleX: 312, titleY: 38, yTitleX: 22, yTitleY: 292, color: '#b4c3ea',
  centers: c1Centers, points: [].concat(c1Grid, c1A, c1Afill, c1B, c1Bfill, c1C, c1D, c1E),
  pad: {top: 59, right: 21, left: 0, bottom: 0}, xH: 60, yW: 71,
  xPad: 11, yPad: 14, x1Pad: 0
});
makeChart('c2', {
  title: titles[1], titleX: 347, titleY: 45, yTitleX: 29, yTitleY: 286, color: '#bcd3f0',
  centers: c2Centers, points: [].concat(c2Grid, c2A, c2Afill, c2B, c2Bfill, c2C, c2D, c2E),
  pad: {top: 80, right: 11, left: 0, bottom: 0}, xH: 59, yW: 80,
  xPad: 11, yPad: 12, x1Pad: 1
});
</script>
</body></html>
